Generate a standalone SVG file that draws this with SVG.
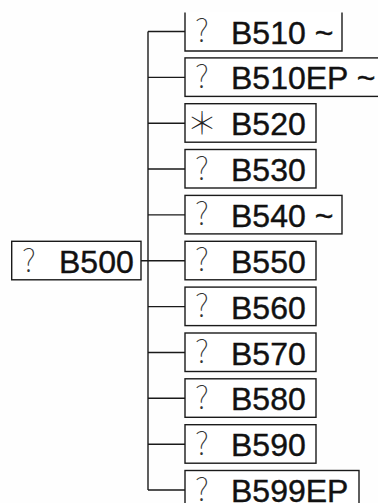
<svg xmlns="http://www.w3.org/2000/svg" width="378" height="503" viewBox="0 0 378 503">
<style>
.box{fill:#fff;stroke:#1a1a1a;stroke-width:1.4}
.lbl{font-family:"Liberation Sans",Arial,sans-serif;font-size:32px;fill:#111;stroke:#111;stroke-width:0.4}
.sym{font-family:"Noto Sans CJK SC","Liberation Sans",sans-serif;font-weight:100;font-size:31px;fill:#333;text-anchor:middle}
.star{fill:#222}
.con{fill:none;stroke:#1a1a1a;stroke-width:1.4}
</style>
<rect width="378" height="503" fill="#fefefe"/>
<g id="connectors" class="con">
<path d="M148 31.5V490"/>
<path d="M141 260.8H185"/>
<path d="M148 31.5H185M148 77.4H185M148 123.2H185M148 169H185M148 214.9H185M148 306.6H185M148 352.5H185M148 398.3H185M148 444.2H185M148 490H185"/>
</g>
<g id="B500"><rect class="box" x="11.7" y="241.3" width="129.3" height="38.5"/><text class="sym" x="29" y="271.5">?</text><text class="lbl" x="59" y="272.8">B500</text></g>
<g id="B510"><path class="box" d="M185 12.5V51H342V12.5"/><text class="sym" x="202" y="42">?</text><text class="lbl" x="231" y="43.5">B510 ~</text></g>
<g id="B510EP"><rect class="box" x="185" y="57.9" width="220" height="38.5"/><text class="sym" x="202" y="87.9">?</text><text class="lbl" x="231" y="89.4">B510EP ~</text></g>
<g id="B520"><rect class="box" x="185" y="103.7" width="131" height="38.5"/><text class="sym star" x="202" y="133.7">＊</text><text class="lbl" x="231" y="135.2">B520</text></g>
<g id="B530"><rect class="box" x="185" y="149.5" width="131" height="38.5"/><text class="sym" x="202" y="179.5">?</text><text class="lbl" x="231" y="181">B530</text></g>
<g id="B540"><rect class="box" x="185" y="195.4" width="157" height="38.5"/><text class="sym" x="202" y="225.4">?</text><text class="lbl" x="231" y="226.9">B540 ~</text></g>
<g id="B550"><rect class="box" x="185" y="241.3" width="131" height="38.5"/><text class="sym" x="202" y="271.3">?</text><text class="lbl" x="231" y="272.8">B550</text></g>
<g id="B560"><rect class="box" x="185" y="287.1" width="131" height="38.5"/><text class="sym" x="202" y="317.1">?</text><text class="lbl" x="231" y="318.6">B560</text></g>
<g id="B570"><rect class="box" x="185" y="333" width="131" height="38.5"/><text class="sym" x="202" y="363">?</text><text class="lbl" x="231" y="364.5">B570</text></g>
<g id="B580"><rect class="box" x="185" y="378.8" width="131" height="38.5"/><text class="sym" x="202" y="408.8">?</text><text class="lbl" x="231" y="410.3">B580</text></g>
<g id="B590"><rect class="box" x="185" y="424.7" width="131" height="38.5"/><text class="sym" x="202" y="454.7">?</text><text class="lbl" x="231" y="456.2">B590</text></g>
<g id="B599EP"><rect class="box" x="185" y="470.5" width="174" height="38.5"/><text class="sym" x="202" y="500.5">?</text><text class="lbl" x="231" y="502">B599EP</text></g>
</svg>
